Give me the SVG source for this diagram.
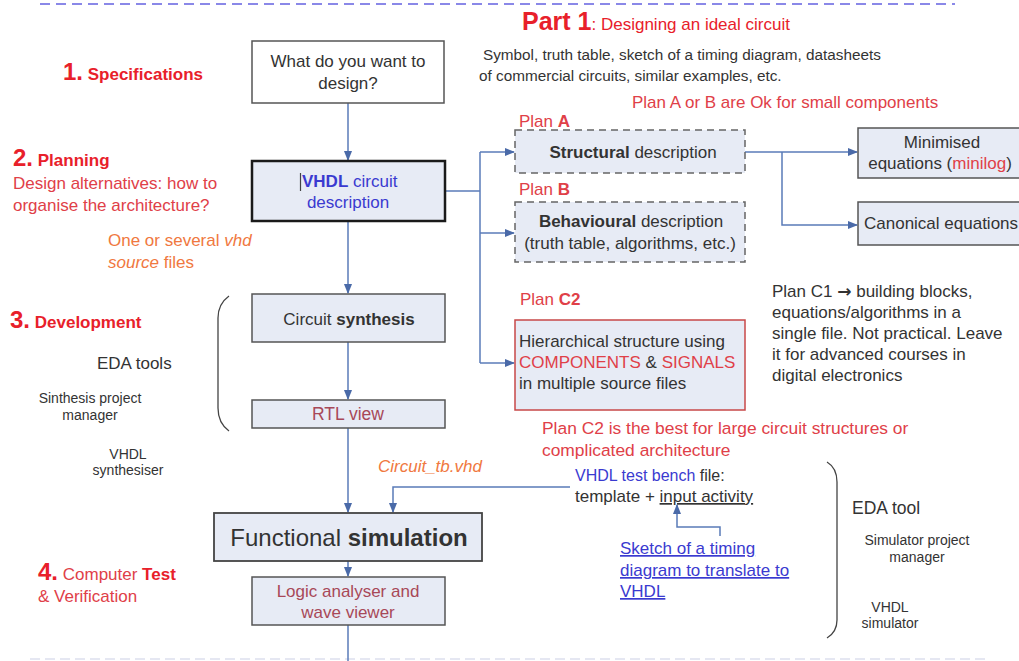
<svg xmlns="http://www.w3.org/2000/svg" width="1019" height="661" viewBox="0 0 1019 661">
  <defs>
    <style>
      text { font-family: "Liberation Sans", Arial, sans-serif; font-size: 17px; fill: #333; }
      .red { fill: #e8202a; }
      .lred { fill: #e04048; }
      .orange { fill: #f07840; }
      .blue { fill: #3a3ad0; }
      .maroon { fill: #a84858; }
      .b { font-weight: bold; }
      .i { font-style: italic; }
      .num { font-size: 24px; font-weight: bold; }
      .small { font-size: 14px; }
      .mid { text-anchor: middle; }
      .box { fill: #e7ebf5; stroke: #555; stroke-width: 1.5; }
      .dash { fill: #e7ebf5; stroke: #666; stroke-width: 1.5; stroke-dasharray: 7 5; }
      .conn { fill: none; stroke: #5a7bb8; stroke-width: 1.5; }
      .brace { fill: none; stroke: #444; stroke-width: 1.3; }
    </style>
    <marker id="arr" viewBox="0 0 10 10" refX="9" refY="5" markerWidth="7" markerHeight="7" orient="auto">
      <path d="M0,1 L10,5 L0,9 z" fill="#4a6aa8"/>
    </marker>
  </defs>

  <rect width="1019" height="661" fill="#ffffff"/>

  <!-- page separators -->
  <line x1="40" y1="4" x2="955" y2="4" stroke="#8a88e8" stroke-width="2" stroke-dasharray="10 6"/>
  <line x1="30" y1="659" x2="985" y2="659" stroke="#dde0ee" stroke-width="1.5" stroke-dasharray="10 5"/>

  <!-- headings -->
  <text x="522" y="30"><tspan class="red b" style="font-size:25px">Part 1</tspan><tspan class="red">: Designing an ideal circuit</tspan></text>
  <text x="483" y="60" style="font-size:15.3px">Symbol, truth table, sketch of a timing diagram, datasheets</text>
  <text x="479" y="81" style="font-size:15.3px">of commercial circuits, similar examples, etc.</text>
  <text x="632" y="108" class="lred">Plan A or B are Ok for small components</text>

  <text x="63" y="80"><tspan class="red num">1.</tspan><tspan class="red b"> Specifications</tspan></text>
  <text x="13" y="166"><tspan class="red num">2.</tspan><tspan class="red b"> Planning</tspan></text>
  <text x="13" y="189" class="lred">Design alternatives: how to</text>
  <text x="13" y="211" class="lred">organise the architecture?</text>
  <text x="108" y="246" class="orange">One or several <tspan class="i">vhd</tspan></text>
  <text x="108" y="268" class="orange"><tspan class="i">source</tspan> files</text>

  <text x="10" y="328"><tspan class="red num">3.</tspan><tspan class="red b"> Development</tspan></text>
  <text x="97" y="369">EDA tools</text>
  <text x="90" y="403" class="small mid">Sinthesis project</text>
  <text x="90" y="420" class="small mid">manager</text>
  <text x="128" y="459" class="small mid">VHDL</text>
  <text x="128" y="475" class="small mid">synthesiser</text>

  <text x="38" y="580"><tspan class="red num">4.</tspan><tspan class="lred"> Computer </tspan><tspan class="red b">Test</tspan></text>
  <text x="38" y="602" class="lred">&amp; Verification</text>

  <!-- braces -->
  <path class="brace" d="M229,296 Q218,304 218,318 L218,408 Q218,423 229,431"/>
  <path class="brace" d="M827,462 Q837,468 837,482 L837,620 Q837,632 827,638"/>

  <text x="852" y="514" style="font-size:17.5px">EDA tool</text>
  <text x="917" y="545" class="small mid">Simulator project</text>
  <text x="917" y="562" class="small mid">manager</text>
  <text x="890" y="612" class="small mid">VHDL</text>
  <text x="890" y="628" class="small mid">simulator</text>

  <!-- connectors -->
  <g id="connectors">
    <line class="conn" x1="348" y1="103" x2="348" y2="160" marker-end="url(#arr)"/>
    <line class="conn" x1="348" y1="221" x2="348" y2="293" marker-end="url(#arr)"/>
    <line class="conn" x1="348" y1="342" x2="348" y2="399" marker-end="url(#arr)"/>
    <line class="conn" x1="348" y1="428" x2="348" y2="512" marker-end="url(#arr)"/>
    <line class="conn" x1="348" y1="561" x2="348" y2="576" marker-end="url(#arr)"/>
    <line class="conn" x1="348" y1="625" x2="348" y2="661"/>
    <polyline class="conn" points="445,191 480,191"/>
    <polyline class="conn" points="480,152 480,363"/>
    <line class="conn" x1="480" y1="152" x2="514" y2="152" marker-end="url(#arr)"/>
    <line class="conn" x1="480" y1="233" x2="514" y2="233" marker-end="url(#arr)"/>
    <line class="conn" x1="480" y1="363" x2="514" y2="363" marker-end="url(#arr)"/>
    <line class="conn" x1="745" y1="152" x2="857" y2="152" marker-end="url(#arr)"/>
    <polyline class="conn" points="782,152 782,225 857,225" marker-end="url(#arr)"/>
    <polyline class="conn" points="570,487 393,487 393,512" marker-end="url(#arr)"/>
    <polyline class="conn" points="720,536 720,527 677,527 677,505" marker-end="url(#arr)"/>
  </g>

  <!-- nodes -->
  <g id="spec">
    <rect x="252" y="41" width="192" height="62" fill="#ffffff" stroke="#555" stroke-width="1.5"/>
    <text x="348" y="67" class="mid">What do you want to</text>
    <text x="348" y="89" class="mid">design?</text>
  </g>

  <g id="vhdl-desc">
    <rect x="252" y="161" width="193" height="60" fill="#e7ebf5" stroke="#1a1a1a" stroke-width="2.5"/>
    <line x1="300.5" y1="173" x2="300.5" y2="191" stroke="#444" stroke-width="1.2"/>
    <text x="302" y="187" class="blue"><tspan class="b">VHDL</tspan> circuit</text>
    <text x="348" y="208" class="mid blue">description</text>
  </g>

  <g id="structural">
    <rect class="dash" x="515" y="130" width="230" height="43"/>
    <text x="519" y="127" class="lred">Plan <tspan class="b">A</tspan></text>
    <text x="633" y="158" class="mid"><tspan class="b">Structural</tspan> description</text>
  </g>

  <g id="behavioural">
    <rect class="dash" x="515" y="202" width="230" height="60"/>
    <text x="519" y="195" class="lred">Plan <tspan class="b">B</tspan></text>
    <text x="631" y="227" class="mid"><tspan class="b">Behavioural</tspan> description</text>
    <text x="630" y="249" class="mid">(truth table, algorithms, etc.)</text>
  </g>

  <g id="minimised">
    <rect class="box" x="858" y="128" width="165" height="50"/>
    <text x="942" y="148" class="mid">Minimised</text>
    <text x="940" y="169" class="mid">equations (<tspan class="lred">minilog</tspan>)</text>
  </g>

  <g id="canonical">
    <rect class="box" x="858" y="202" width="165" height="43"/>
    <text x="864" y="229">Canonical equations</text>
  </g>

  <g id="hierarchical">
    <text x="520" y="305" class="lred">Plan <tspan class="b">C2</tspan></text>
    <rect x="515" y="320" width="230" height="90" fill="#e7ebf5" stroke="#c84848" stroke-width="1.5"/>
    <text x="519" y="347">Hierarchical structure using</text>
    <text x="519" y="368"><tspan class="lred">COMPONENTS</tspan> &amp; <tspan class="lred">SIGNALS</tspan></text>
    <text x="519" y="389">in multiple source files</text>
  </g>

  <g id="plan-c-notes">
    <text x="772" y="297">Plan C1 <tspan class="b" style="font-family:'DejaVu Sans', sans-serif">→</tspan> building blocks,</text>
    <text x="772" y="318">equations/algorithms in a</text>
    <text x="772" y="339">single file. Not practical. Leave</text>
    <text x="772" y="360">it for advanced courses in</text>
    <text x="772" y="381">digital electronics</text>
    <text x="542" y="434" class="lred" style="font-size:17.4px">Plan C2 is the best for large circuit structures or</text>
    <text x="542" y="456" class="lred" style="font-size:17.4px">complicated architecture</text>
  </g>

  <g id="synthesis">
    <rect class="box" x="252" y="294" width="193" height="48"/>
    <text x="349" y="325" class="mid">Circuit <tspan class="b">synthesis</tspan></text>
  </g>

  <g id="rtl">
    <rect class="box" x="252" y="400" width="193" height="28"/>
    <text x="348" y="420" class="mid maroon" style="font-size:17.5px">RTL view</text>
  </g>

  <g id="testbench">
    <text x="378" y="472" class="orange i">Circuit_tb.vhd</text>
    <text x="575" y="481" style="font-size:16px"><tspan class="blue">VHDL test bench</tspan> file:</text>
    <text x="575" y="502"><tspan>template + </tspan><tspan text-decoration="underline">input activity</tspan></text>
  </g>

  <g id="sketch">
    <text x="620" y="554" class="blue" text-decoration="underline">Sketch of a timing</text>
    <text x="620" y="576" class="blue" text-decoration="underline">diagram to translate to</text>
    <text x="620" y="597" class="blue" text-decoration="underline">VHDL</text>
  </g>

  <g id="simulation">
    <rect x="214" y="513" width="268" height="48" fill="#e7ebf5" stroke="#444" stroke-width="1.8"/>
    <text x="349" y="546" class="mid" style="font-size:24px">Functional <tspan class="b">simulation</tspan></text>
  </g>

  <g id="viewer">
    <rect class="box" x="252" y="577" width="193" height="48"/>
    <text x="348" y="597" class="mid maroon">Logic analyser and</text>
    <text x="348" y="618" class="mid maroon">wave viewer</text>
  </g>
</svg>
